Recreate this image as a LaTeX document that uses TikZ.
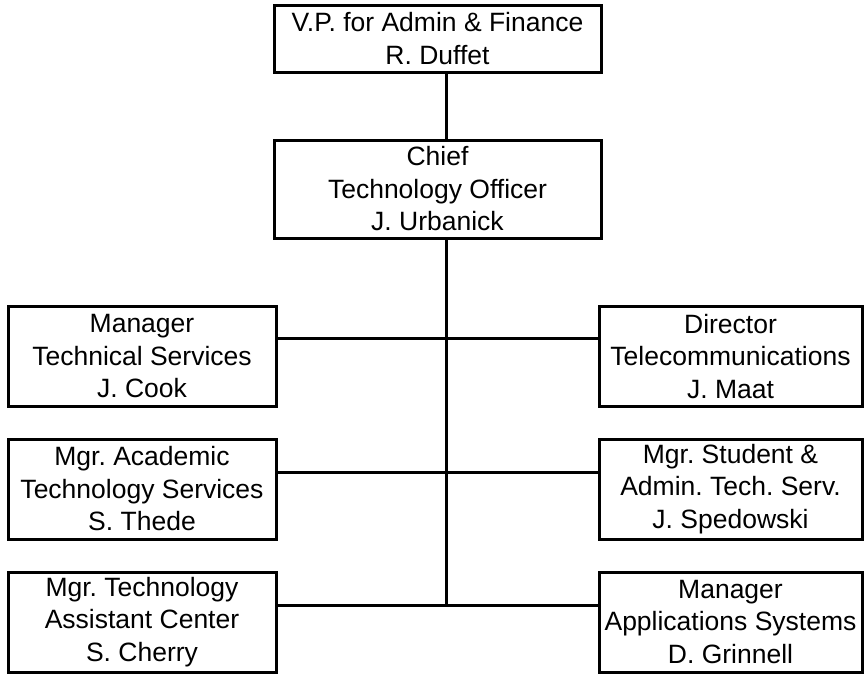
\documentclass[tikz,border=0pt]{standalone}
\usepackage{fontspec}
\setmainfont{Liberation Sans}
\frenchspacing

\tikzstyle{post}=[
    rectangle,
    line width=3pt,
    draw=black,
    fill=white,
    align=center,
    inner sep=0pt,
    font=\fontsize{26.5}{32.5}\selectfont
]
\tikzstyle{wide}=[post, minimum width=327pt]
\tikzstyle{side}=[post, minimum width=268pt, minimum height=100pt]
\tikzstyle{rside}=[post, minimum width=263pt, minimum height=100pt]

\begin{document}
\begin{tikzpicture}[x=1pt,y=-1pt]
	\useasboundingbox (0,0) rectangle (864,673);
	% TOP
	\node (vp) [wide, minimum height=67pt] at (437.5,38.5) {V.P. for Admin \& Finance\\R. Duffet};
	\node (cto) [wide, minimum height=98pt] at (437.5,189) {Chief\\Technology Officer\\J. Urbanick};
	% LEFT COLUMN
	\node (mts) [side] at (142,356.5) {Manager\\Technical Services\\J. Cook};
	\node (mats) [side] at (142,489) {Mgr. Academic\\Technology Services\\S. Thede};
	\node (mtac) [side] at (142,622) {Mgr. Technology\\Assistant Center\\S. Cherry};
	% RIGHT COLUMN
	\node (dt) [rside] at (730.5,356.5) {Director\\Telecommunications\\J. Maat};
	\node (msat) [rside] at (730.5,489) {Mgr. Student \&\\Admin. Tech. Serv.\\J. Spedowski};
	\node (mas) [rside] at (730.5,622) {Manager\\Applications Systems\\D. Grinnell};

	% spine joints
	\coordinate (j1) at (446,338);
	\coordinate (j2) at (446,472);
	\coordinate (j3) at (446,605);

	\path[line width=3pt]
	% Vertical connections
	(vp.south -| j1) edge (cto.north -| j1)
	(cto.south -| j1) edge (j3)

	% Connections to the sides
	(mts.east |- j1) edge (dt.west |- j1)
	(mats.east |- j2) edge (msat.west |- j2)
	(mtac.east |- j3) edge (mas.west |- j3)
	;
\end{tikzpicture}
\end{document}
